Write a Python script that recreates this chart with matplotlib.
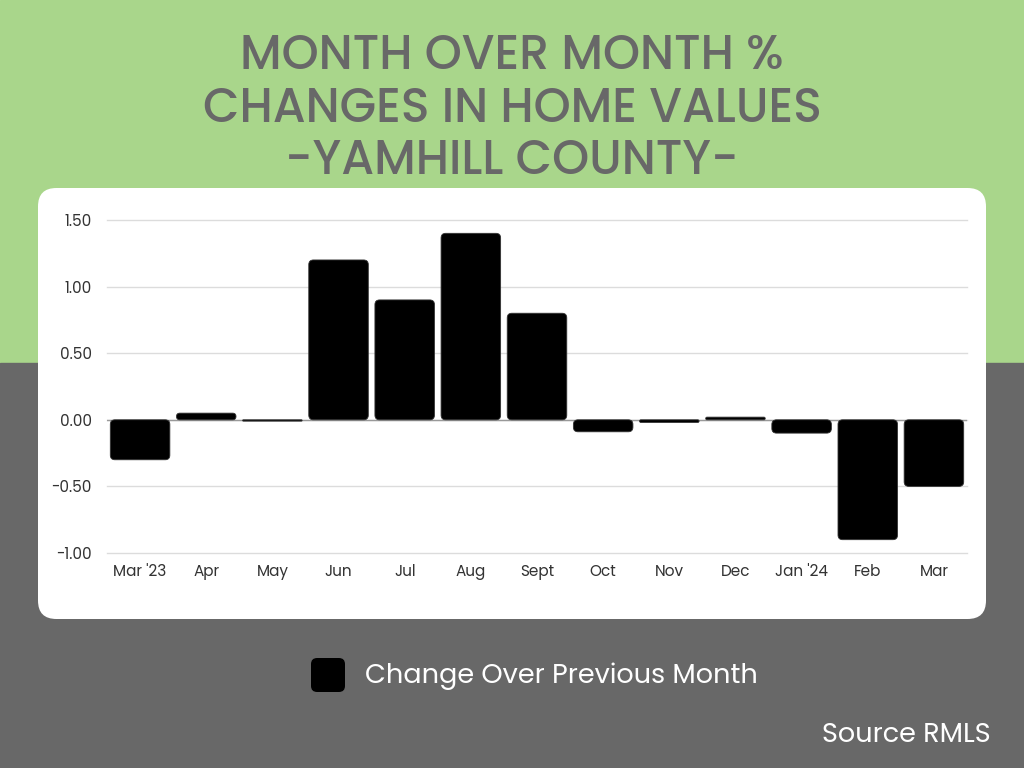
import matplotlib.pyplot as plt
from matplotlib.patches import FancyBboxPatch, Rectangle

# data
months = ["Mar '23", "Apr", "May", "Jun", "Jul", "Aug", "Sept",
          "Oct", "Nov", "Dec", "Jan '24", "Feb", "Mar"]
change = [-0.30, 0.05, -0.01, 1.20, 0.90, 1.40, 0.80,
          -0.09, -0.02, 0.02, -0.10, -0.90, -0.50]
yticks = [-1.0, -0.5, 0.0, 0.5, 1.0, 1.5]

plt.rcParams['font.family'] = ['Poppins', 'Inter', 'DejaVu Sans']

fig = plt.figure(figsize=(10.24, 7.68), dpi=100)
W, H = 1024, 768

# background: green top, grey bottom
fig.patches.append(Rectangle((0, 1 - 363 / H), 1, 363 / H, transform=fig.transFigure,
                             color="#a9d68b", zorder=0))
fig.patches.append(Rectangle((0, 0), 1, 1 - 363 / H, transform=fig.transFigure,
                             color="#686868", zorder=0))

# white rounded panel
px0, px1, py0, py1 = 38, 986, 188, 619
fig.patches.append(FancyBboxPatch((px0 / W, 1 - py1 / H), (px1 - px0) / W, (py1 - py0) / H,
                                  boxstyle="round,pad=0,rounding_size=0.018",
                                  mutation_aspect=W / H,
                                  transform=fig.transFigure, facecolor="white",
                                  edgecolor="none", zorder=1))

# title
fig.text(0.5, 1 - 110 / H, "MONTH OVER MONTH %\nCHANGES IN HOME VALUES\n-YAMHILL COUNTY-",
         ha="center", va="center", fontsize=34, color="#686868", fontweight="medium",
         linespacing=1.1, zorder=3)

ax = fig.add_axes([107 / W, 1 - 553 / H, (967 - 107) / W, (553 - 220) / H], zorder=2)
ax.set_facecolor("none")

x = list(range(len(months)))
bars = ax.bar(x, change, width=0.9, color="black")
ax.set_xlim(-0.5, len(months) - 0.5)
ax.set_ylim(-1.0, 1.5)

# swap the plain bars for rounded ones
fig.canvas.draw()
px_x = ax.transData.transform((1, 0))[0] - ax.transData.transform((0, 0))[0]
px_y = ax.transData.transform((0, 1))[1] - ax.transData.transform((0, 0))[1]
aspect = px_x / px_y
for b in bars:
    bx, by = b.get_x(), b.get_y()
    bw, bh = b.get_width(), b.get_height()
    if bh < 0:
        by, bh = by + bh, -bh
    r = min(0.07, bw / 2, bh / aspect / 2)
    ax.add_patch(FancyBboxPatch((bx, by), bw, bh,
                                boxstyle=f"round,pad=0,rounding_size={r}",
                                mutation_aspect=aspect,
                                facecolor="black", edgecolor="#333333",
                                linewidth=0.6, zorder=3))
    b.set_visible(False)

ax.set_yticks(yticks)
ax.set_yticklabels([f"{v:.2f}" for v in yticks])
ax.set_xticks(x)
ax.set_xticklabels(months)
for v in yticks:
    ax.axhline(v, color="#dcdcdc", linewidth=1, zorder=0, clip_on=False)
ax.axhline(0, color="#999999", linewidth=1, zorder=2)
for s in ax.spines.values():
    s.set_visible(False)
ax.tick_params(length=0, labelsize=11, colors="#333333")
ax.tick_params(axis="y", pad=11)
ax.tick_params(axis="x", pad=8)

# legend
fig.patches.append(FancyBboxPatch((311 / W, 1 - 692 / H), 34 / W, 34 / H,
                                  boxstyle="round,pad=0,rounding_size=0.006",
                                  mutation_aspect=W / H,
                                  transform=fig.transFigure, facecolor="black",
                                  edgecolor="none", zorder=3))
fig.text(365 / W, 1 - 676 / H, "Change Over Previous Month", ha="left", va="center",
         fontsize=19.5, color="white", zorder=3)

fig.text(991 / W, 1 - 735 / H, "Source RMLS", ha="right", va="center",
         fontsize=19.5, color="white", zorder=3)

fig.savefig("out.png", dpi=100)
